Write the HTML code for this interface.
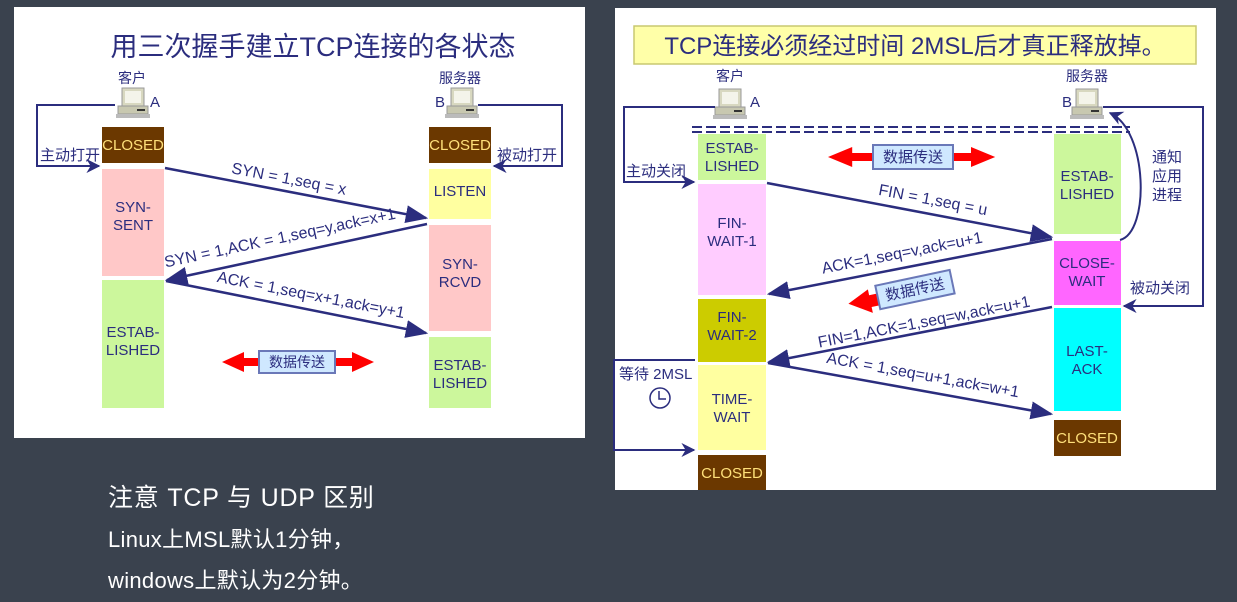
<!DOCTYPE html>
<html><head><meta charset="utf-8"><style>
body{margin:0;background:#3a424e;}
svg{display:block}
text{font-family:"Liberation Sans","Noto Sans CJK SC",sans-serif;}
</style></head><body>
<svg width="1237" height="602" viewBox="0 0 1237 602" xmlns="http://www.w3.org/2000/svg">
<defs>
<marker id="ah" viewBox="0 0 10 10" refX="9" refY="5" markerWidth="7" markerHeight="7" orient="auto"><path d="M0,0 L10,5 L0,10 L3,5 z" fill="#2b2d7e"/></marker>
<marker id="ahs" viewBox="0 0 10 10" refX="9" refY="5" markerWidth="9" markerHeight="9" orient="auto"><path d="M0,1 L10,5 L0,9 z" fill="#2b2d7e"/></marker>
<g id="pc">
<rect x="4" y="0" width="22" height="18" fill="#d8d8c0" stroke="#999" stroke-width="1"/>
<rect x="7" y="3" width="16" height="12" fill="#f4f4ea"/>
<rect x="0" y="18" width="30" height="8" fill="#c8c8b0" stroke="#999" stroke-width="1"/>
<rect x="19" y="21" width="8" height="2" fill="#333"/>
<rect x="-2" y="26" width="34" height="4" fill="#bbb"/>
</g>
<g id="dt">
<path d="M0,0 l22,-10 v6 h108 v-6 l22,10 l-22,10 v-6 h-108 v6 z" fill="#f00"/>
</g>
</defs>
<rect width="1237" height="602" fill="#3a424e"/>
<!-- LEFT PANEL -->
<rect x="14" y="7" width="571" height="431" fill="#fff"/>
<text x="313" y="56" font-size="27" fill="#2b2d7e" text-anchor="middle">用三次握手建立TCP连接的各状态</text>
<text x="132" y="83" font-size="14" fill="#2b2d7e" text-anchor="middle">客户</text>
<use href="#pc" x="118" y="88"/>
<text x="150" y="107" font-size="15" fill="#2b2d7e">A</text>
<text x="460" y="83" font-size="14" fill="#2b2d7e" text-anchor="middle">服务器</text>
<use href="#pc" x="447" y="88"/>
<text x="435" y="107" font-size="15" fill="#2b2d7e">B</text>
<g stroke="#2b2d7e" stroke-width="2" fill="none">
<polyline points="115,105 37,105 37,166 99,166" marker-end="url(#ah)"/>
<polyline points="478,105 562,105 562,166 494,166" marker-end="url(#ah)"/>
<line x1="165" y1="168" x2="426" y2="218" stroke-width="2.5" marker-end="url(#ahs)"/>
<line x1="427" y1="224" x2="167" y2="280" stroke-width="2.5" marker-end="url(#ahs)"/>
<line x1="166" y1="281" x2="426" y2="333" stroke-width="2.5" marker-end="url(#ahs)"/>
</g>
<text x="40" y="160" font-size="15" fill="#2b2d7e">主动打开</text>
<text x="497" y="160" font-size="15" fill="#2b2d7e">被动打开</text>
<g font-size="15" text-anchor="middle">
<rect x="102" y="127" width="62" height="36" fill="#6b3800"/><text x="133" y="150" fill="#ffe07a">CLOSED</text>
<rect x="102" y="169" width="62" height="107" fill="#ffc8c8"/><text x="133" y="212" fill="#2b2d7e">SYN-</text><text x="133" y="230" fill="#2b2d7e">SENT</text>
<rect x="102" y="280" width="62" height="128" fill="#ccf79c"/><text x="133" y="337" fill="#2b2d7e">ESTAB-</text><text x="133" y="355" fill="#2b2d7e">LISHED</text>
<rect x="429" y="127" width="62" height="36" fill="#6b3800"/><text x="460" y="150" fill="#ffe07a">CLOSED</text>
<rect x="429" y="169" width="62" height="50" fill="#ffffa0"/><text x="460" y="196" fill="#2b2d7e">LISTEN</text>
<rect x="429" y="225" width="62" height="106" fill="#ffc8c8"/><text x="460" y="269" fill="#2b2d7e">SYN-</text><text x="460" y="287" fill="#2b2d7e">RCVD</text>
<rect x="429" y="337" width="62" height="71" fill="#ccf79c"/><text x="460" y="370" fill="#2b2d7e">ESTAB-</text><text x="460" y="388" fill="#2b2d7e">LISHED</text>
</g>
<g font-size="16" fill="#2b2d7e" text-anchor="middle">
<text transform="translate(288,184) rotate(10.8)">SYN = 1,seq = x</text>
<text transform="translate(281,243) rotate(-12)">SYN = 1,ACK = 1,seq=y,ack=x+1</text>
<text transform="translate(310,300) rotate(11)">ACK = 1,seq=x+1,ack=y+1</text>
</g>
<use href="#dt" x="222" y="362"/>
<rect x="259" y="351" width="76" height="22" fill="#cfe8ff" stroke="#6a78b8" stroke-width="2"/>
<text x="297" y="367" font-size="14" fill="#2b2d7e" text-anchor="middle">数据传送</text>

<!-- RIGHT PANEL -->
<rect x="615" y="8" width="601" height="482" fill="#fff"/>
<rect x="634" y="26" width="562" height="38" fill="#ffffa8" stroke="#c8c870" stroke-width="1.5"/>
<text x="915" y="54" font-size="24" fill="#2b2d7e" text-anchor="middle">TCP连接必须经过时间 2MSL后才真正释放掉。</text>
<text x="730" y="81" font-size="14" fill="#2b2d7e" text-anchor="middle">客户</text>
<use href="#pc" x="715" y="89"/>
<text x="750" y="107" font-size="15" fill="#2b2d7e">A</text>
<text x="1087" y="81" font-size="14" fill="#2b2d7e" text-anchor="middle">服务器</text>
<use href="#pc" x="1072" y="89"/>
<text x="1062" y="107" font-size="15" fill="#2b2d7e">B</text>
<g stroke="#2b2d7e" stroke-width="2" stroke-dasharray="10,4" fill="none">
<line x1="692" y1="127" x2="1130" y2="127"/><line x1="692" y1="132" x2="1130" y2="132"/>
</g>
<g stroke="#2b2d7e" stroke-width="2" fill="none">
<polyline points="715,107 624,107 624,182 694,182" marker-end="url(#ah)"/>
<polyline points="1103,107 1203,107 1203,306 1124,306" marker-end="url(#ah)"/>
<path d="M1120,240 C1150,232 1148,130 1110,113" marker-end="url(#ah)"/>
<polyline points="695,360 614,360 614,450 694,450" marker-end="url(#ah)"/>
<line x1="767" y1="183" x2="1051" y2="237" stroke-width="2.5" marker-end="url(#ahs)"/>
<line x1="1052" y1="239" x2="769" y2="294" stroke-width="2.5" marker-end="url(#ahs)"/>
<line x1="1052" y1="307" x2="769" y2="362" stroke-width="2.5" marker-end="url(#ahs)"/>
<line x1="768" y1="363" x2="1051" y2="414" stroke-width="2.5" marker-end="url(#ahs)"/>
</g>
<text x="626" y="176" font-size="15" fill="#2b2d7e">主动关闭</text>
<text x="1130" y="293" font-size="15" fill="#2b2d7e">被动关闭</text>
<g font-size="15" fill="#2b2d7e"><text x="1152" y="162">通知</text><text x="1152" y="181">应用</text><text x="1152" y="200">进程</text></g>
<text x="619" y="379" font-size="15" fill="#2b2d7e">等待 2MSL</text>
<circle cx="660" cy="398" r="10" fill="none" stroke="#2b2d7e" stroke-width="1.5"/>
<polyline points="659,391 659,399 666,399" fill="none" stroke="#2b2d7e" stroke-width="1.5"/>
<g font-size="15" text-anchor="middle">
<rect x="698" y="134" width="68" height="46" fill="#ccf79c"/><text x="732" y="153" fill="#2b2d7e">ESTAB-</text><text x="732" y="171" fill="#2b2d7e">LISHED</text>
<rect x="698" y="184" width="68" height="111" fill="#ffccff"/><text x="732" y="228" fill="#2b2d7e">FIN-</text><text x="732" y="246" fill="#2b2d7e">WAIT-1</text>
<rect x="698" y="299" width="68" height="63" fill="#cccc00"/><text x="732" y="322" fill="#2b2d7e">FIN-</text><text x="732" y="340" fill="#2b2d7e">WAIT-2</text>
<rect x="698" y="365" width="68" height="85" fill="#ffffa0"/><text x="732" y="404" fill="#2b2d7e">TIME-</text><text x="732" y="422" fill="#2b2d7e">WAIT</text>
<rect x="698" y="455" width="68" height="35" fill="#6b3800"/><text x="732" y="478" fill="#ffe07a">CLOSED</text>
<rect x="1054" y="134" width="67" height="100" fill="#ccf79c"/><text x="1087" y="181" fill="#2b2d7e">ESTAB-</text><text x="1087" y="199" fill="#2b2d7e">LISHED</text>
<rect x="1054" y="241" width="67" height="64" fill="#ff66ff"/><text x="1087" y="268" fill="#2b2d7e">CLOSE-</text><text x="1087" y="286" fill="#2b2d7e">WAIT</text>
<rect x="1054" y="308" width="67" height="103" fill="#00ffff"/><text x="1087" y="356" fill="#2b2d7e">LAST-</text><text x="1087" y="374" fill="#2b2d7e">ACK</text>
<rect x="1054" y="420" width="67" height="36" fill="#6b3800"/><text x="1087" y="443" fill="#ffe07a">CLOSED</text>
</g>
<g font-size="16" fill="#2b2d7e" text-anchor="middle">
<text transform="translate(932,205) rotate(10.7)">FIN = 1,seq = u</text>
<text transform="translate(903,258) rotate(-11)">ACK=1,seq=v,ack=u+1</text>
<text transform="translate(925,327) rotate(-11)">FIN=1,ACK=1,seq=w,ack=u+1</text>
<text transform="translate(922,380) rotate(10.2)">ACK = 1,seq=u+1,ack=w+1</text>
</g>
<g transform="translate(828,157) scale(1.1,1)"><use href="#dt"/></g>
<rect x="873" y="145" width="80" height="24" fill="#cfe8ff" stroke="#6a78b8" stroke-width="2"/>
<text x="913" y="162" font-size="15" fill="#2b2d7e" text-anchor="middle">数据传送</text>
<g transform="translate(913,290) rotate(-12)">
<path d="M-66,0 l22,-10 v6 h60 v12 h-60 v6 z" fill="#f00"/>
<rect x="-36" y="-12" width="76" height="24" fill="#cfe8ff" stroke="#6a78b8" stroke-width="2"/>
<text x="2" y="5" font-size="15" fill="#2b2d7e" text-anchor="middle">数据传送</text>
</g>

<!-- bottom text -->
<g fill="#fff">
<text x="108" y="506" font-size="25" letter-spacing="0.8">注意 TCP 与 UDP 区别</text>
<text x="108" y="547" font-size="22" letter-spacing="0.3">Linux上MSL默认1分钟，</text>
<text x="108" y="588" font-size="22" letter-spacing="0.3">windows上默认为2分钟。</text>
</g>
</svg>
</body></html>
